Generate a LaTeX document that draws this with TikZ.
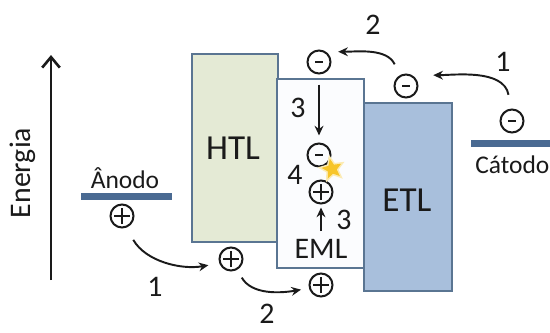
\documentclass[tikz,border=0pt]{standalone}
\usepackage{fontspec}
\setmainfont{Carlito}
\usetikzlibrary{arrows.meta,shapes.geometric}
\definecolor{boxline}{HTML}{5A7592}
\definecolor{htlfill}{HTML}{E4EAD5}
\definecolor{emlfill}{HTML}{FBFCFE}
\definecolor{etlfill}{HTML}{A8BFDC}
\definecolor{barcol}{HTML}{4A6A92}
\definecolor{txt}{HTML}{1A1A1A}
\definecolor{staryellow}{HTML}{F7C52A}
\begin{document}
\begin{tikzpicture}[x=0.02cm, y=-0.02cm,
  layerbox/.style={draw=boxline, line width=1.2pt, inner sep=0pt, anchor=north west},
  electrode/.style={barcol, line width=4pt},
  chg/.style={circle, draw=txt, line width=1.15pt, minimum size=0.46cm, inner sep=0pt},
  hole/.style={chg, path picture={\draw[txt, line width=1pt]
     ([xshift=-0.16cm]path picture bounding box.center) -- ([xshift=0.16cm]path picture bounding box.center)
     ([yshift=-0.16cm]path picture bounding box.center) -- ([yshift=0.16cm]path picture bounding box.center);}},
  elec/.style={chg, path picture={\draw[txt, line width=0.9pt]
     ([xshift=-0.075cm]path picture bounding box.center) -- ([xshift=0.075cm]path picture bounding box.center);}},
  carrow/.style={-{Stealth[length=5.5pt,width=5pt]}, txt, line width=1.1pt},
  lbl/.style={txt, font=\fontsize{20}{23}\selectfont, inner sep=0pt},
  axtxt/.style={txt, font=\fontsize{17}{20}\selectfont, inner sep=0pt},
  emltxt/.style={txt, font=\fontsize{17}{20}\selectfont, inner sep=0pt},
  num/.style={txt, font=\fontsize{17}{20}\selectfont, inner sep=0pt},
  elname/.style={txt, font=\fontsize{14.5}{17}\selectfont, inner sep=0pt}
]
\useasboundingbox (0,0) rectangle (550,332);

% energy axis
\coordinate (eBot) at (51,280);
\coordinate (eTop) at (51,55);
\draw[txt, line width=1.5pt, -{Straight Barb[length=6pt,width=10pt]}] (eBot) -- (eTop);
\node[axtxt, rotate=90] (energia) at (23,173) {Energia};

% layers
\node[layerbox, fill=htlfill, minimum width=1.72cm, minimum height=3.76cm] (htl) at (191,53) {};
\node[layerbox, fill=emlfill, minimum width=1.74cm, minimum height=3.78cm] (eml) at (276,78) {};
\node[layerbox, fill=etlfill, minimum width=1.76cm, minimum height=3.76cm] (etl) at (363,102) {};
\node[lbl] (htltxt) at (233,148) {HTL};
\node[lbl] (etltxt) at (407,200) {ETL};
\node[emltxt] (emltxt) at (321,249) {EML};

% electrodes
\draw[electrode] (81,196.5) -- (172,196.5);
\node[elname, anchor=base] (anodo) at (125,188) {Ânodo};
\draw[electrode] (471,143.5) -- (552,143.5);
\node[elname, anchor=base west] (catodo) at (475,173) {Cátodo};

% charges
\node[hole] (pA) at (122,216) {};
\node[hole] (pH) at (231,259) {};
\node[hole] (pE) at (321,285) {};
\node[hole] (pM) at (321,192) {};
\node[elec] (eE) at (319,155) {};
\node[elec] (eM) at (319,62) {};
\node[elec] (eT) at (406,86) {};
\node[elec] (eK) at (512,121) {};

% star (recombination)
\node[star, star points=5, star point ratio=2.2, fill=staryellow!35, minimum size=0.58cm, inner sep=0pt, rotate=12] (glow) at (332,169) {};
\node[star, star points=5, star point ratio=2.2, fill=staryellow, minimum size=0.42cm, inner sep=0pt, rotate=12] (spark) at (332,169) {};

% hole transport
\draw[carrow, shorten <=0.28cm, shorten >=0.22cm] (pA.-70) to[out=-60, in=190] (pH.200);
\draw[carrow, shorten <=0.18cm, shorten >=0.16cm] (pH.-60) to[out=-60, in=190] (pE.195);
\coordinate (up3) at (321,231);
\draw[carrow, shorten >=0.06cm] (up3) -- (pM);

% electron transport
\draw[carrow, shorten <=0.28cm, shorten >=0.42cm] (eK.95) to[out=100, in=0] (eT.60);
\draw[carrow, shorten <=0.24cm, shorten >=0.24cm] (eT.120) to[out=115, in=0] (eM.55);
\draw[carrow, shorten <=0.2cm, shorten >=0.14cm] (eM) -- (eE);

% step numbers
\node[num] (n1b) at (155,287) {1};
\node[num] (n2b) at (267,314) {2};
\node[num] (n2t) at (373,25) {2};
\node[num] (n1t) at (503,62) {1};
\node[num] (n3t) at (298,108) {3};
\node[num] (n4) at (295,175) {4};
\node[num] (n3b) at (344,220) {3};
\end{tikzpicture}
\end{document}
